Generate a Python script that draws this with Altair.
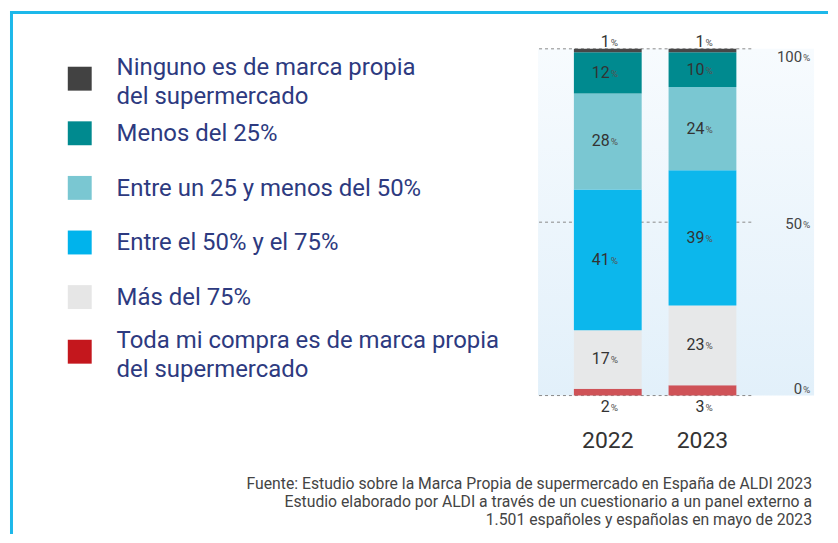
import altair as alt
import pandas as pd

years = ["2022", "2023"]
categories = [
    "Ninguno es de marca propia\ndel supermercado",
    "Menos del 25%",
    "Entre un 25 y menos del 50%",
    "Entre el 50% y el 75%",
    "Más del 75%",
    "Toda mi compra es de marca propia\ndel supermercado",
]
values_2022 = [1, 12, 28, 41, 17, 2]
values_2023 = [1, 10, 24, 39, 23, 3]
scale_ticks = [0, 50, 100]
footnote = [
    "Fuente: Estudio sobre la Marca Propia de supermercado en España de ALDI 2023",
    "Estudio elaborado por ALDI a través de un cuestionario a un panel externo a",
    "1.501 españoles y españolas en mayo de 2023",
]

legend_colors = ["#424242", "#008A8F", "#7AC7D2", "#00B3EC", "#E6E6E6", "#C4171D"]
bar_colors = ["#474747", "#008A8F", "#7AC7D2", "#0CB7EC", "#E7E8E9", "#CF5257"]
NAVY = "#2D3A80"
FONT = "Roboto"

PLOT_H = 348
BAR_W = 214
series = {"2022": values_2022, "2023": values_2023}

rows = []
for yr in years:
    vals = series[yr]
    total = sum(vals)
    cum = 0
    n = len(vals)
    for i in range(n - 1, -1, -1):
        v = vals[i]
        lo = cum
        cum += v
        if i == 0:
            pos = 1 + 7 / PLOT_H
        elif i == n - 1:
            pos = -12 / PLOT_H
        else:
            pos = (lo + v / 2) / total
        rows.append({"year": yr, "cat": categories[i], "order": n - 1 - i,
                     "value": v, "pos": pos})
df = pd.DataFrame(rows)

x_enc = alt.X(
    "year:N",
    scale=alt.Scale(domain=years, paddingInner=0.284, paddingOuter=0.268, align=0.706),
    axis=alt.Axis(title=None, domain=False, ticks=False, labelAngle=0,
                  labelFontSize=23, labelColor="#333333", labelPadding=34,
                  labelFont=FONT),
)
y_scale = alt.Scale(domain=[0, 1])

one = pd.DataFrame({"a": [0]})

bg = alt.Chart(one).mark_rect(
    color=alt.LinearGradient(
        gradient="linear",
        stops=[alt.GradientStop(color="#F7FBFE", offset=0),
               alt.GradientStop(color="#E2F0FA", offset=1)],
        x1=0, x2=0, y1=0, y2=1,
    )
).encode(x=alt.value(0), x2=alt.value(277), y=alt.value(0), y2=alt.value(PLOT_H))

grid = alt.Chart(pd.DataFrame({"t": scale_ticks})).transform_calculate(
    v="datum.t / 100"
).mark_rule(strokeDash=[3, 3], color="#8a8a8a", strokeWidth=1).encode(
    y=alt.Y("v:Q", scale=y_scale, axis=None)
)

bars = alt.Chart(df).mark_bar().encode(
    x=x_enc,
    y=alt.Y("value:Q", stack="normalize", scale=y_scale, axis=None),
    color=alt.Color("cat:N", scale=alt.Scale(domain=categories, range=bar_colors), legend=None),
    order=alt.Order("order:Q"),
)

num_txt = alt.Chart(df).mark_text(
    align="right", baseline="middle", dx=2, fontSize=16, color="#333333", font=FONT
).encode(x=x_enc, y=alt.Y("pos:Q", scale=y_scale, axis=None), text="value:Q")

pct_txt = alt.Chart(df).mark_text(
    align="left", baseline="middle", dx=3, dy=1, fontSize=10, color="#555555", font=FONT
).encode(x=x_enc, y=alt.Y("pos:Q", scale=y_scale, axis=None), text=alt.value("%"))

tick_df = pd.DataFrame({"t": scale_ticks})
tick_pos = "datum.t == 100 ? 1 - 8/348 : (datum.t == 0 ? 7/348 : datum.t/100 - 2/348)"
tick_num = alt.Chart(tick_df).transform_calculate(p=tick_pos).mark_text(
    align="right", baseline="middle", fontSize=15, color="#444444", font=FONT
).encode(x=alt.value(265), y=alt.Y("p:Q", scale=y_scale, axis=None), text="t:Q")
tick_pct = alt.Chart(tick_df).transform_calculate(p=tick_pos).mark_text(
    align="left", baseline="middle", dy=1, fontSize=10, color="#555555", font=FONT
).encode(x=alt.value(266), y=alt.Y("p:Q", scale=y_scale, axis=None), text=alt.value("%"))

foot = alt.Chart(pd.DataFrame({"txt": ["\n".join(footnote)]})).mark_text(
    align="right", baseline="middle", lineBreak="\n", fontSize=15.8, lineHeight=18,
    color="#444444", font=FONT
).encode(x=alt.value(275), y=alt.value(437), text="txt:N")

bar_chart = alt.layer(bg, grid, bars, num_txt, pct_txt, tick_num, tick_pct, foot).properties(
    width=BAR_W, height=PLOT_H
)

leg_df = pd.DataFrame({"lcat": categories, "idx": list(range(len(categories)))})
leg_df["lines"] = leg_df["lcat"].str.count("\n") + 1
leg_y = alt.Y("idx:Q", scale=alt.Scale(domain=[-0.547, 5.803], reverse=True), axis=None)
squares = alt.Chart(leg_df).mark_square(size=576, opacity=1).encode(
    x=alt.value(70), y=leg_y,
    color=alt.Color("lcat:N", scale=alt.Scale(domain=categories, range=legend_colors), legend=None),
)
leg_text1 = alt.Chart(leg_df).transform_filter("datum.lines == 1").mark_text(
    align="left", baseline="middle", fontSize=24, lineBreak="\n", lineHeight=29,
    color=NAVY, font=FONT, dy=1
).encode(x=alt.value(107), y=leg_y, text="lcat:N")
leg_text2 = alt.Chart(leg_df).transform_filter("datum.lines == 2").mark_text(
    align="left", baseline="middle", fontSize=24, lineBreak="\n", lineHeight=29,
    color=NAVY, font=FONT, dy=-11
).encode(x=alt.value(107), y=leg_y, text="lcat:N")

frame_top = alt.Chart(one).mark_rule(color="#1DB8EA", strokeWidth=3).encode(
    x=alt.value(0), x2=alt.value(821), y=alt.value(-36.5)
)
frame_left = alt.Chart(one).mark_rule(color="#1DB8EA", strokeWidth=3).encode(
    x=alt.value(1.5), y=alt.value(-38), y2=alt.value(487)
)

legend_chart = alt.layer(frame_top, frame_left, squares, leg_text1, leg_text2).properties(
    width=480, height=PLOT_H
)

chart = alt.hconcat(legend_chart, bar_chart, spacing=50, bounds="flush").resolve_scale(
    color="independent", x="independent", y="independent"
).properties(
    padding={"left": 0, "top": 0, "right": 0, "bottom": 0}, background="white"
).configure(font=FONT).configure_view(stroke="transparent", strokeWidth=0)

chart.save("out.html", embed_options={"renderer": "svg", "actions": False})
